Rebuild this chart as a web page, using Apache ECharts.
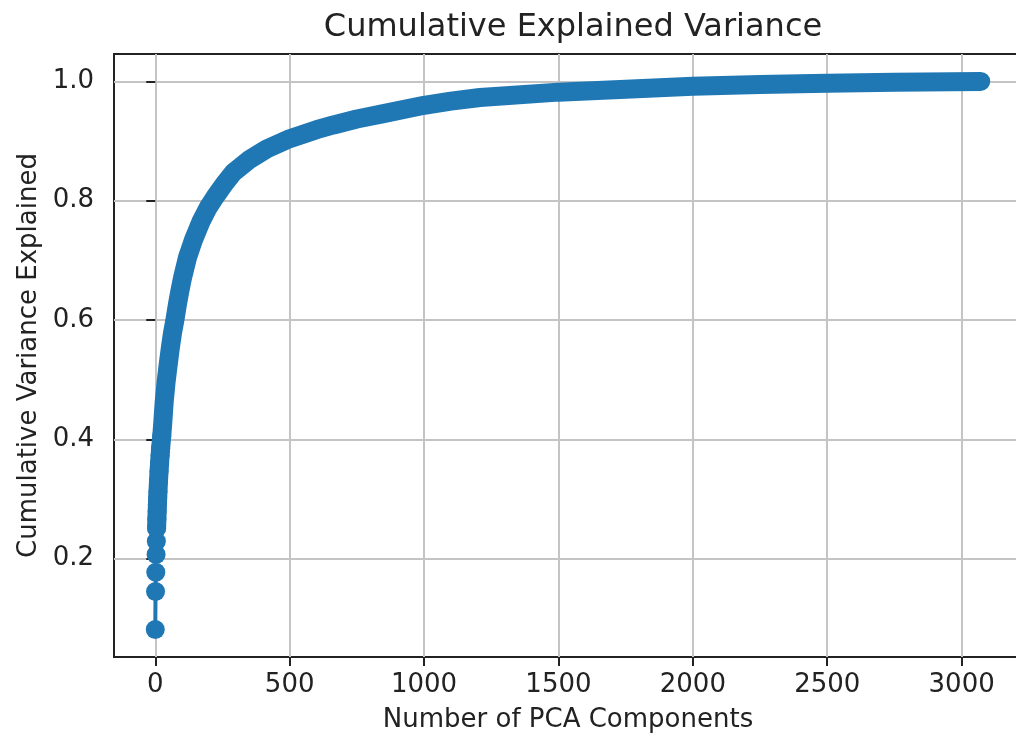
<!DOCTYPE html>
<html><head><meta charset="utf-8">
<script src="https://cdn.jsdelivr.net/npm/echarts@6/dist/echarts.min.js"></script>
<style>html,body{margin:0;padding:0;background:#fff;overflow:hidden}#c{width:1024px;height:742px}</style>
</head><body><div id="c"></div>
<script>
// PCA component index and cumulative explained variance
const components = [0,1,2,3,4,5,6,7,8,9,10,12,14,16,18,20,24,28,33,40,48,56,64,73,82,90,101,120,141,170,195,222,260,290,350,415,500,600,663,750,849,1000,1100,1208,1500,1750,2000,2250,2500,2750,3071];
const variance = [0.081,0.145,0.177,0.207,0.229,0.251,0.266,0.279,0.291,0.302,0.312,0.330,0.346,0.360,0.373,0.385,0.405,0.428,0.462,0.495,0.525,0.553,0.578,0.600,0.625,0.645,0.670,0.705,0.733,0.765,0.787,0.806,0.830,0.847,0.869,0.887,0.904,0.919,0.927,0.937,0.946,0.960,0.967,0.973,0.982,0.987,0.992,0.995,0.997,0.9985,1.0];
const xTicks = [0,500,1000,1500,2000,2500,3000];
const yTicks = [0.2,0.4,0.6,0.8,1.0];
const titleText = 'Cumulative Explained Variance';
const xName = 'Number of PCA Components';
const yName = 'Cumulative Variance Explained';

const pts = components.map((c,i)=>[c, variance[i]]);
const xmin0 = Math.min(...components), xmax0 = Math.max(...components);
const ymin0 = Math.min(...variance), ymax0 = Math.max(...variance);
const xpad = (xmax0-xmin0)*0.05, ypad = (ymax0-ymin0)*0.05;
const blue = '#1f77b4';
const font = 'DejaVu Sans';
const chart = echarts.init(document.getElementById('c'), null, {renderer:'canvas'});
chart.setOption({
  animation:false,
  backgroundColor:'#fff',
  title:{text:titleText,left:568,textAlign:'center',top:7,textStyle:{fontFamily:font,fontSize:32,fontWeight:'normal',color:'#222'}},
  grid:{left:114,top:54,right:2,bottom:85,show:true,borderColor:'#222',borderWidth:2,backgroundColor:'transparent'},
  xAxis:{type:'value',min:xmin0-xpad,max:xmax0+xpad,
    name:xName,nameLocation:'middle',nameGap:50,nameTextStyle:{fontFamily:font,fontSize:26,color:'#222'},
    axisLine:{show:false},
    axisTick:{show:true,inside:false,length:9,lineStyle:{color:'#222',width:2},customValues:xTicks},
    axisLabel:{margin:15,fontFamily:font,fontSize:26,color:'#222',customValues:xTicks,formatter:v=>String(Math.round(v))},
    splitLine:{show:true,lineStyle:{color:'#c4c4c4',width:2}}},
  yAxis:{type:'value',min:ymin0-ypad,max:ymax0+ypad,
    name:yName,nameLocation:'middle',nameGap:66,nameRotate:90,nameTextStyle:{fontFamily:font,fontSize:26,color:'#222'},
    axisLine:{show:false},
    axisTick:{show:true,inside:false,length:9,lineStyle:{color:'#222',width:2},customValues:yTicks},
    axisLabel:{margin:20,fontFamily:font,fontSize:26,color:'#222',customValues:yTicks,formatter:v=>v.toFixed(1)},
    splitLine:{show:true,lineStyle:{color:'#c4c4c4',width:2}}},
  series:[
    {type:'line',data:pts.slice(5),symbol:'none',clip:false,z:2,
     lineStyle:{width:19,color:blue,cap:'round',join:'round'}},
    {type:'line',data:pts.slice(0,17),symbol:'circle',symbolSize:19,showAllSymbol:true,clip:false,z:3,
     itemStyle:{color:blue},lineStyle:{width:4,color:blue}}
  ]
});
</script></body></html>
